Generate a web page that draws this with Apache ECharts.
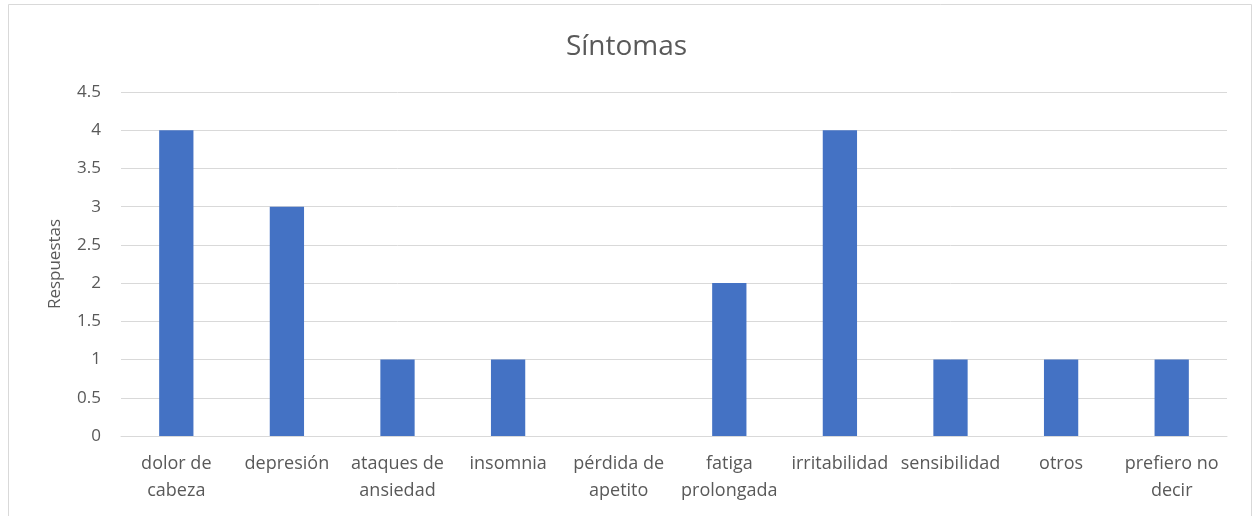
<!DOCTYPE html>
<html>
<head>
<meta charset="utf-8">
<script src="https://cdn.jsdelivr.net/npm/echarts@6/dist/echarts.min.js"></script>
<style>
html,body{margin:0;padding:0;background:#fff;}
#chart{width:1253px;height:516px;}
</style>
</head>
<body>
<div id="chart"></div>
<script>
const title = 'Síntomas';
const yAxisName = 'Respuestas';
const categories = ['dolor de\ncabeza', 'depresión', 'ataques de\nansiedad', 'insomnia', 'pérdida de\napetito', 'fatiga\nprolongada', 'irritabilidad', 'sensibilidad', 'otros', 'prefiero no\ndecir'];
const values = [4, 3, 1, 1, 0, 2, 4, 1, 1, 1];
const yMin = 0, yMax = 4.5, yStep = 0.5;

const chart = echarts.init(document.getElementById('chart'), null, {renderer: 'canvas'});
const font = '"Open Sans", "Noto Sans", sans-serif';
chart.setOption({
  animation: false,
  backgroundColor: '#fff',
  textStyle: {fontFamily: font},
  title: {
    text: title,
    left: 'center',
    top: 28,
    textStyle: {fontFamily: font, fontSize: 28, fontWeight: 'normal', color: '#595959'}
  },
  graphic: [{
    type: 'rect',
    shape: {x: 8.5, y: 4.5, width: 1243, height: 530},
    style: {fill: 'none', stroke: '#d9d9d9', lineWidth: 1},
    silent: true, z: -1
  }],
  grid: {left: 121, right: 26, top: 92, bottom: 80},
  xAxis: {
    type: 'category',
    data: categories,
    axisLine: {show: true, lineStyle: {color: '#d9d9d9', width: 1}},
    axisTick: {show: false},
    axisLabel: {
      interval: 0, margin: 14, color: '#595959', fontSize: 18, lineHeight: 27,
      fontFamily: font
    }
  },
  yAxis: {
    type: 'value',
    min: yMin, max: yMax, interval: yStep,
    name: yAxisName,
    nameLocation: 'middle',
    nameGap: 57,
    nameTextStyle: {color: '#595959', fontSize: 17, fontFamily: font},
    axisLine: {show: false},
    axisTick: {show: false},
    splitLine: {lineStyle: {color: '#d9d9d9', width: 1}},
    axisLabel: {color: '#595959', fontSize: 17, margin: 20, fontFamily: font}
  },
  series: [{
    type: 'bar',
    data: values,
    barWidth: '31%',
    itemStyle: {color: '#4472C4'}
  }]
});
</script>
</body>
</html>
